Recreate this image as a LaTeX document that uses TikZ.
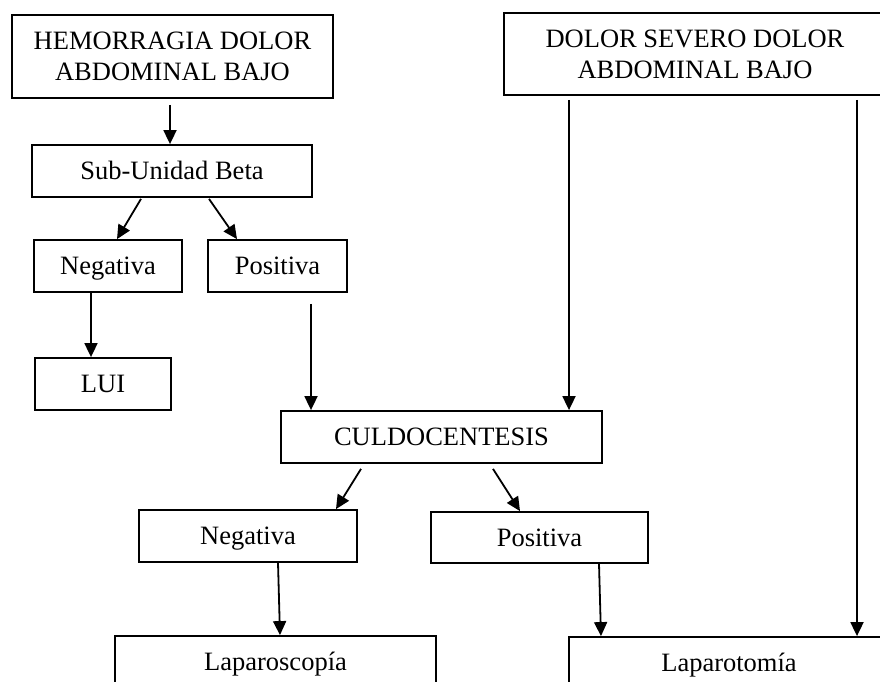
\documentclass[tikz,border=0pt]{standalone}
\usepackage{fontspec}
\setmainfont{Liberation Serif}
\usetikzlibrary{arrows.meta}
\begin{document}
\begin{tikzpicture}[x=1pt,y=-1pt,
  boxnode/.style={draw,line width=1.8pt,inner sep=0pt,font=\fontsize{26.5}{31}\selectfont,align=center},
  oneline/.style={boxnode,text height=17.5pt,text depth=0pt},
  arr/.style={line width=1.8pt,-{Triangle[width=13pt,length=14pt]}}]
\useasboundingbox (0,0) rectangle (880,682);
\clip (0,0) rectangle (880,682);
\fill[white] (0,0) rectangle (880,682);
% boxes
\node[boxnode,minimum width=321pt,minimum height=83pt] (hem) at (172.5,56.5) {HEMORRAGIA DOLOR\\ABDOMINAL BAJO};
\node[boxnode,minimum width=382pt,minimum height=82pt] (dol) at (695,54) {DOLOR SEVERO DOLOR\\ABDOMINAL BAJO};
\node[oneline,minimum width=280pt,minimum height=52pt] (sub) at (172,171) {Sub-Unidad Beta};
\node[oneline,minimum width=148pt,minimum height=52pt] (neg1) at (108,266) {Negativa};
\node[oneline,minimum width=139pt,minimum height=52pt] (pos1) at (277.5,266) {Positiva};
\node[oneline,minimum width=136pt,minimum height=52pt] (lui) at (103,384) {LUI};
\node[oneline,minimum width=321pt,minimum height=52pt] (cul) at (441.5,437) {CULDOCENTESIS};
\node[oneline,minimum width=218pt,minimum height=52pt] (neg2) at (248,536) {Negativa};
\node[oneline,minimum width=217pt,minimum height=51pt] (pos2) at (539.5,537.5) {Positiva};
\node[oneline,minimum width=321pt,minimum height=52pt] (lapsc) at (275.5,662) {Laparoscopía};
\node[oneline,minimum width=320pt,minimum height=52pt] (lapt) at (729,663) {Laparotomía};
% connectors
\draw[arr] ([xshift=-2.5pt,yshift=-6pt]hem.south) -- ([xshift=-2pt]sub.north);
\draw[arr] ([xshift=-31pt,yshift=-1pt]sub.south) -- ([xshift=9pt]neg1.north);
\draw[arr] ([xshift=37pt,yshift=-1pt]sub.south) -- ([xshift=-40.5pt]pos1.north);
\draw[arr] ([xshift=-17pt]neg1.south) -- ([xshift=-12pt]lui.north);
\draw[arr] ([xshift=33.5pt,yshift=-11pt]pos1.south) -- ([xshift=-130.5pt]cul.north);
\draw[arr] ([xshift=-126pt,yshift=-4pt]dol.south) -- ([xshift=127.5pt]cul.north);
\draw[arr] ([xshift=162pt,yshift=-4pt]dol.south) -- ([xshift=128pt]lapt.north);
\draw[arr] ([xshift=-80.5pt,yshift=-5pt]cul.south) -- ([xshift=88pt]neg2.north);
\draw[arr] ([xshift=51.5pt,yshift=-5pt]cul.south) -- ([xshift=-19.5pt]pos2.north);
\draw[arr] ([xshift=30pt]neg2.south) -- ([xshift=4.5pt]lapsc.north);
\draw[arr] ([xshift=59.5pt]pos2.south) -- ([xshift=-128pt]lapt.north);
\end{tikzpicture}
\end{document}
